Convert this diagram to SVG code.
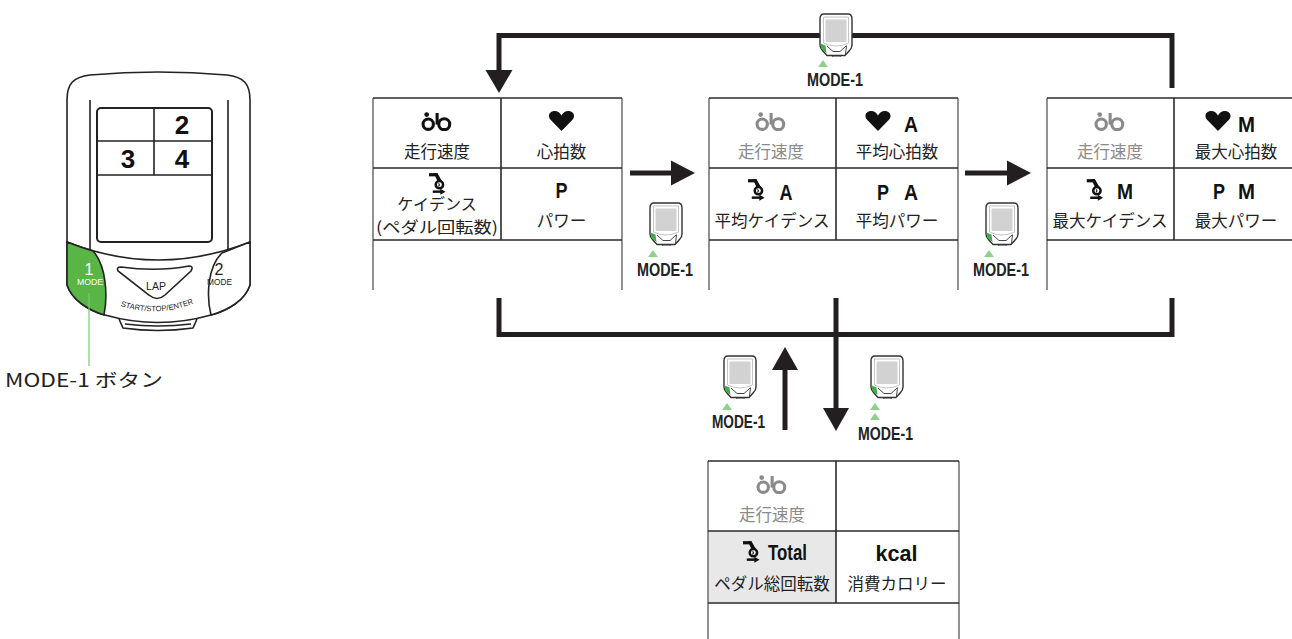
<svg xmlns="http://www.w3.org/2000/svg" width="1292" height="639" viewBox="0 0 1292 639">
<style>
.jp{font-family:"Noto Sans CJK JP",sans-serif;font-size:16.5px;fill:#222;text-anchor:middle}
.dim{fill:#8a8a8a}
.bold{font-family:"Liberation Sans Narrow","Liberation Sans",sans-serif;font-weight:bold;font-size:22px;fill:#111;text-anchor:middle}
.mode{font-family:"Liberation Sans Narrow","Liberation Sans",sans-serif;font-weight:bold;font-size:19px;fill:#222;text-anchor:middle}
.grid{stroke:#2b2b2b;stroke-width:1.6;fill:none}
.side{stroke:#777;stroke-width:1.6;fill:none}
.conn{stroke:#231f20;stroke-width:5;fill:none}
.head{fill:#231f20}
.tri{fill:#8fd18a}
.dev{stroke:#222;stroke-width:1.6}
.devtxt{font-family:"Liberation Sans",sans-serif;text-anchor:middle}
</style>
<defs>
  <!-- speed (bicycle) glyph -->
  <symbol id="bike" viewBox="0 0 30 18">
    <circle cx="7" cy="11.6" r="5" fill="none" stroke="currentColor" stroke-width="3"/>
    <circle cx="22.5" cy="11.6" r="5.3" fill="none" stroke="currentColor" stroke-width="3"/>
    <circle cx="5.5" cy="2.3" r="2.3" fill="currentColor"/>
    <path d="M15.6 0.8 V12" stroke="currentColor" stroke-width="3" fill="none"/>
  </symbol>
  <!-- heart rate glyph -->
  <symbol id="heart" viewBox="0 0 25 19">
    <path d="M12.5 19 L2.2 8.6 C-1.4 4.6 1 0 6 0 C9 0 11.2 1.8 12.5 4.2 C13.8 1.8 16 0 19 0 C24 0 26.4 4.6 22.8 8.6 Z" fill="#111"/>
  </symbol>
  <!-- cadence (crank) glyph -->
  <symbol id="cad" viewBox="0 0 18 23">
    <rect x="0" y="0" width="9" height="3.4" fill="currentColor"/>
    <polygon points="5,0 9,0 13.5,8 9.5,9.5" fill="currentColor"/>
    <circle cx="11" cy="12.2" r="3.9" fill="#fff" stroke="currentColor" stroke-width="2.6"/>
    <path d="M10 11 Q12 12 10 14" stroke="currentColor" stroke-width="1.2" fill="none"/>
    <path d="M4 19.6 H13" stroke="currentColor" stroke-width="2.6"/>
    <polygon points="12,16.5 17.5,19.6 12,23" fill="currentColor"/>
  </symbol>
  <!-- small computer pictogram -->
  <symbol id="mini" viewBox="0 0 34 44">
    <path d="M5,1 H29 Q33,1 33,6 V32 Q33,35 30.5,37.5 L26,42.5 H8 L3.5,37.5 Q1,35 1,32 V6 Q1,1 5,1 Z" fill="#fff" stroke="#333" stroke-width="1.4"/>
    <path d="M4.5,4 H29.5 V30 Q17,36 4.5,30 Z" fill="none" stroke="#aaa" stroke-width="0.7"/>
    <rect x="6.5" y="6.5" width="21" height="22.5" rx="1" fill="#d2d2d2"/>
    <path d="M1.6,30.5 L6.5,32.5 L7.5,40 L3.8,37.3 Q1.6,35 1.6,32 Z" fill="#3fae49"/>
    <path d="M8,33 L14,38.5 H21 L27,33 M27.5,32.5 L26.5,41" stroke="#333" stroke-width="0.9" fill="none"/>
    <path d="M13,42.5 L14,44 H21 L22,42.5" stroke="#333" stroke-width="0.8" fill="none"/>
  </symbol>
</defs>

<rect width="1292" height="639" fill="#fff"/>

<!-- handheld unit with MODE-1 callout -->
<g id="device">
  <path class="dev" d="M119,319 L123,328 Q158,333 193,328 L197,319" fill="#fff"/>
  <path class="dev" d="M125,324 Q158,328 191,324" fill="none" stroke-width="1"/>
  <path class="dev" stroke-width="2" fill="#fff" d="M67,100 C67,84 73,77 90,75 Q158,69 227,75 C244,77 250,84 250,100 L250,285 C245,300 229,310 211,315 Q158,330 105,315 C88,310 72,300 67,285 Z"/>
  <path class="dev" d="M67,242 Q158,278 250,242" fill="none"/>
  <path class="dev" d="M90,100 V250 M228,100 V250" fill="none" stroke-width="1.4"/>
  <rect x="97" y="108" width="115" height="134" rx="4" fill="#fff" stroke="#222" stroke-width="2"/>
  <path d="M97,141 H212 M97,175 H212 M154,108 V175" stroke="#222" stroke-width="1.6" fill="none"/>
  <text class="devtxt" x="182" y="134" font-size="26" font-weight="bold" fill="#111">2</text>
  <text class="devtxt" x="128" y="168" font-size="26" font-weight="bold" fill="#111">3</text>
  <text class="devtxt" x="182" y="168" font-size="26" font-weight="bold" fill="#111">4</text>
  <path class="dev" fill="#5ab547" d="M67,242 Q80,247 93,251 C106,265 108,295 104,315 C88,310 72,300 67,285 Z"/>
  <path class="dev" fill="#fff" d="M250,242 Q237,247 222,253 C208,266 206,295 211,315 C229,310 245,300 250,285 Z"/>
  <path class="dev" fill="#fff" d="M118,271 Q116,267 121,267 Q157,272 189,266 Q194,266 191,271 L165,295 Q157,302 149,295 Z"/>
  <text class="devtxt" x="156" y="290" font-size="10.5" fill="#222">LAP</text>
  <path id="arcStart" d="M108,301 Q156,323 206,298" fill="none"/>
  <text class="devtxt" font-size="7.6" fill="#222"><textPath href="#arcStart" startOffset="50%">START/STOP/ENTER</textPath></text>
  <text class="devtxt" x="89" y="275" font-size="16" fill="#fff">1</text>
  <text class="devtxt" x="90" y="284.5" font-size="9.5" fill="#fff" textLength="26" lengthAdjust="spacingAndGlyphs">MODE</text>
  <text class="devtxt" x="219" y="275" font-size="16" fill="#222">2</text>
  <text class="devtxt" x="219.5" y="284.5" font-size="9.5" fill="#222" textLength="25" lengthAdjust="spacingAndGlyphs">MODE</text>
  <line x1="89" y1="293" x2="89" y2="366" stroke="#7dc873" stroke-width="1.2"/>
  <text x="5" y="387" font-family="Noto Sans CJK JP, sans-serif" font-size="18.5" fill="#222" textLength="158" lengthAdjust="spacingAndGlyphs">MODE-1 ボタン</text>
</g>

<!-- connectors -->
<g id="connectors">
  <path class="conn" d="M499,72 V35.5 H1172 V88"/>
  <polygon class="head" points="485.5,70 512.5,70 499,93"/>
  <path class="conn" d="M630,173 H674"/>
  <polygon class="head" points="671,160.5 695,173 671,185.5"/>
  <path class="conn" d="M965,173 H1010"/>
  <polygon class="head" points="1007,160.5 1031,173 1007,185.5"/>
  <path class="conn" d="M499,298 V334.5 H1172 V298"/>
  <path class="conn" d="M836,298 V410"/>
  <polygon class="head" points="823,408 849,408 836,431"/>
  <path class="conn" d="M785,430 V368"/>
  <polygon class="head" points="772,370 798,370 785,347"/>
</g>

<!-- MODE-1 press markers -->
<g id="press-top">
  <use href="#mini" x="819" y="13" width="34" height="44"/>
  <polygon class="tri" points="818,67 828,67 823,60"/>
  <text class="mode" x="835" y="86" textLength="56" lengthAdjust="spacingAndGlyphs">MODE-1</text>
</g>
<g id="press-1">
  <use href="#mini" x="649" y="202" width="34" height="44"/>
  <polygon class="tri" points="648,257 658,257 653,250"/>
  <text class="mode" x="665" y="276" textLength="56" lengthAdjust="spacingAndGlyphs">MODE-1</text>
</g>
<g id="press-2">
  <use href="#mini" x="985" y="202" width="34" height="44"/>
  <polygon class="tri" points="984,257 994,257 989,250"/>
  <text class="mode" x="1001" y="276" textLength="56" lengthAdjust="spacingAndGlyphs">MODE-1</text>
</g>
<g id="press-up">
  <use href="#mini" x="723" y="355" width="34" height="44"/>
  <polygon class="tri" points="722,410 732,410 727,403"/>
  <text class="mode" x="738.5" y="428" textLength="53" lengthAdjust="spacingAndGlyphs">MODE-1</text>
</g>
<g id="press-down">
  <use href="#mini" x="870" y="355" width="34" height="44"/>
  <polygon class="tri" points="870,410 880,410 875,403"/>
  <polygon class="tri" points="870,420 880,420 875,413"/>
  <text class="mode" x="885.5" y="440" textLength="55" lengthAdjust="spacingAndGlyphs">MODE-1</text>
</g>

<!-- screen 1: current values -->
<g id="screen-current" transform="translate(373,98)">
  <path class="side" d="M0,0 V192 M249,0 V192"/>
  <path class="grid" d="M0,0 H249 M0,70 H249 M0,142 H249 M128,0 V142"/>
  <use href="#bike" x="48" y="14" width="31" height="19" color="#111"/>
  <text class="jp" x="64" y="60">走行速度</text>
  <use href="#heart" x="175.5" y="13" width="26" height="20"/>
  <text class="jp" x="188.5" y="60">心拍数</text>
  <use href="#cad" x="56" y="75" width="17" height="22" color="#111"/>
  <text class="jp" x="64" y="112" style="font-size:16px">ケイデンス</text>
  <text class="jp" x="64" y="134.5" style="font-size:16px" textLength="122" lengthAdjust="spacingAndGlyphs">(ペダル回転数)</text>
  <text class="bold" x="188.5" y="100" textLength="12" lengthAdjust="spacingAndGlyphs">P</text>
  <text class="jp" x="188.5" y="129">パワー</text>
</g>

<!-- screen 2: averages -->
<g id="screen-average" transform="translate(709,98)">
  <path class="side" d="M0,0 V192 M249,0 V192"/>
  <path class="grid" d="M0,0 H249 M0,70 H249 M0,142 H249 M127,0 V142"/>
  <use href="#bike" x="46" y="14" width="31" height="19" color="#8a8a8a"/>
  <text class="jp dim" x="62" y="60">走行速度</text>
  <use href="#heart" x="156" y="13" width="26" height="20"/>
  <text class="bold" x="202" y="34" textLength="14" lengthAdjust="spacingAndGlyphs">A</text>
  <text class="jp" x="188" y="60">平均心拍数</text>
  <use href="#cad" x="39" y="81" width="17" height="22" color="#111"/>
  <text class="bold" x="77" y="102" textLength="13" lengthAdjust="spacingAndGlyphs">A</text>
  <text class="jp" x="63" y="129">平均ケイデンス</text>
  <text class="bold" x="174" y="102" textLength="12" lengthAdjust="spacingAndGlyphs">P</text>
  <text class="bold" x="202" y="102" textLength="14" lengthAdjust="spacingAndGlyphs">A</text>
  <text class="jp" x="188" y="129">平均パワー</text>
</g>

<!-- screen 3: maximums -->
<g id="screen-maximum" transform="translate(1047,98)">
  <path class="side" d="M0,0 V192 M249,0 V192"/>
  <path class="grid" d="M0,0 H249 M0,70 H249 M0,142 H249 M127,0 V142"/>
  <use href="#bike" x="47" y="14" width="31" height="19" color="#8a8a8a"/>
  <text class="jp dim" x="63" y="60">走行速度</text>
  <use href="#heart" x="158" y="13" width="26" height="20"/>
  <text class="bold" x="199.5" y="34" textLength="17" lengthAdjust="spacingAndGlyphs">M</text>
  <text class="jp" x="189" y="60">最大心拍数</text>
  <use href="#cad" x="39.5" y="81" width="17" height="22" color="#111"/>
  <text class="bold" x="78" y="101" textLength="16" lengthAdjust="spacingAndGlyphs">M</text>
  <text class="jp" x="63" y="129">最大ケイデンス</text>
  <text class="bold" x="172" y="101" textLength="12" lengthAdjust="spacingAndGlyphs">P</text>
  <text class="bold" x="199.5" y="101" textLength="17" lengthAdjust="spacingAndGlyphs">M</text>
  <text class="jp" x="189" y="129">最大パワー</text>
</g>

<!-- screen 4: totals -->
<g id="screen-total" transform="translate(708,461)">
  <rect x="0" y="70" width="128" height="72" fill="#e8e8e8"/>
  <path class="side" d="M0,0 V178 M251,0 V178"/>
  <path class="grid" d="M0,0 H251 M0,70 H251 M0,142 H251 M128,0 V142"/>
  <use href="#bike" x="48" y="14" width="31" height="19" color="#8a8a8a"/>
  <text class="jp dim" x="64" y="60">走行速度</text>
  <use href="#cad" x="35" y="80" width="17" height="22" color="#111"/>
  <text class="bold" x="60" y="99" textLength="39" lengthAdjust="spacingAndGlyphs" style="text-anchor:start">Total</text>
  <text class="jp" x="64" y="129">ペダル総回転数</text>
  <text class="bold" x="188.5" y="100" textLength="42" lengthAdjust="spacingAndGlyphs">kcal</text>
  <text class="jp" x="189" y="129">消費カロリー</text>
</g>
</svg>
